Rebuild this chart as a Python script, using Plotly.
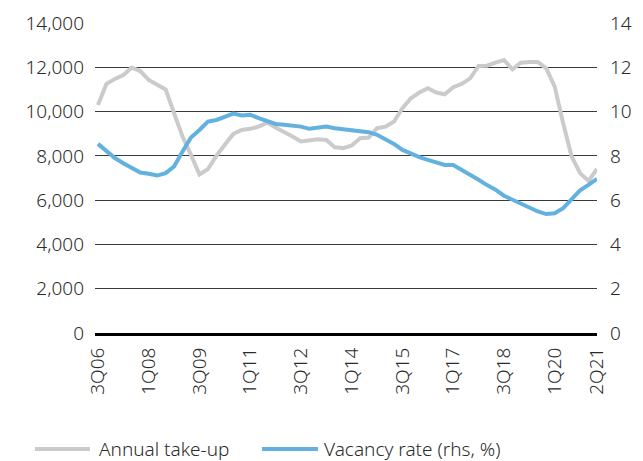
import plotly.graph_objects as go

quarters = ["3Q06","4Q06"] + [f"{q}Q{y:02d}" for y in range(7, 21) for q in range(1, 5)] + ["1Q21","2Q21"]

take_up = [10300, 11250, 11470, 11650, 11985, 11830, 11430, 11200, 11000, 9925,
           8870, 8045, 7160, 7400, 8000, 8500, 8990, 9170, 9220, 9320,
           9500, 9280, 9050, 8870, 8650, 8720, 8750, 8720, 8390, 8350,
           8470, 8800, 8830, 9250, 9320, 9550, 10150, 10600, 10860, 11050,
           10860, 10780, 11100, 11250, 11500, 12060, 12070, 12210, 12330, 11910,
           12210, 12240, 12240, 11950, 11130, 9470, 7970, 7220, 6870, 7410]

vacancy = [8.54, 8.2, 7.9, 7.67, 7.47, 7.25, 7.19, 7.11, 7.22, 7.52,
           8.2, 8.83, 9.17, 9.55, 9.62, 9.77, 9.91, 9.82, 9.86, 9.7,
           9.58, 9.44, 9.4, 9.35, 9.32, 9.22, 9.28, 9.32, 9.25, 9.2,
           9.17, 9.13, 9.07, 8.95, 8.75, 8.54, 8.27, 8.08, 7.94, 7.82,
           7.7, 7.59, 7.59, 7.37, 7.19, 6.92, 6.68, 6.47, 6.2, 6.02,
           5.86, 5.68, 5.49, 5.37, 5.41, 5.64, 6.02, 6.44, 6.69, 6.96]

tick_labels = ["3Q06","1Q08","3Q09","1Q11","3Q12","1Q14","3Q15","1Q17","3Q18","1Q20","2Q21"]
left_ticks = [0, 2000, 4000, 6000, 8000, 10000, 12000, 14000]
right_ticks = [0, 2, 4, 6, 8, 10, 12, 14]
series_names = ["Annual take-up", "Vacancy rate (rhs, %)"]
series_colors = ["#cbcbcb", "#62b1de"]

x = list(range(len(quarters)))
tickvals = [quarters.index(t) for t in tick_labels]

fig = go.Figure()
fig.add_trace(go.Scatter(x=x, y=take_up, name=series_names[0], mode="lines",
                         line=dict(color=series_colors[0], width=4), showlegend=False))
fig.add_trace(go.Scatter(x=x, y=vacancy, name=series_names[1], mode="lines",
                         line=dict(color=series_colors[1], width=4), yaxis="y2",
                         showlegend=False))

fam = "Noto Sans, Open Sans, sans-serif"
tf = dict(family=fam, size=19, color="#2b2b2b", weight=300)

# custom legend below the chart (longer line samples, like the reference)
legend_y = -0.374
legend_items = [(-0.1195, -0.01, 0.004), (0.3327, 0.4442, 0.4522)]
for (x0, x1, xt), name, col in zip(legend_items, series_names, series_colors):
    fig.add_shape(type="line", xref="paper", yref="paper", x0=x0, x1=x1,
                  y0=legend_y, y1=legend_y, line=dict(color=col, width=4))
    fig.add_annotation(xref="paper", yref="paper", x=xt, y=legend_y, text=name,
                       showarrow=False, xanchor="left", yanchor="middle", font=tf)

# page body has an 8px default margin, so the figure is drawn 8px smaller
fig.update_layout(
    width=635, height=453,
    margin=dict(l=87, r=46, t=15, b=128, autoexpand=False),
    paper_bgcolor="white", plot_bgcolor="white",
    font=tf,
    showlegend=False,
    xaxis=dict(range=[-0.35, 59], tickmode="array", tickvals=tickvals, ticktext=tick_labels,
               tickangle=-90, showgrid=False, zeroline=False,
               showline=True, linecolor="black", linewidth=3,
               ticks="", tickfont=tf, ticklabelstandoff=4, automargin=False),
    yaxis=dict(range=[0, 14000], tickmode="array", tickvals=left_ticks,
               tickformat=",d", showgrid=True, gridcolor="#3a3a3a", gridwidth=1,
               zeroline=False, ticks="", showline=False, ticklabelstandoff=10,
               tickfont=tf, automargin=False),
    yaxis2=dict(range=[0, 14], tickmode="array", tickvals=right_ticks, overlaying="y",
                side="right", showgrid=False, zeroline=False, ticks="", showline=False,
                ticklabelstandoff=12, tickfont=tf, automargin=False),
)

fig.write_html("out.html")
